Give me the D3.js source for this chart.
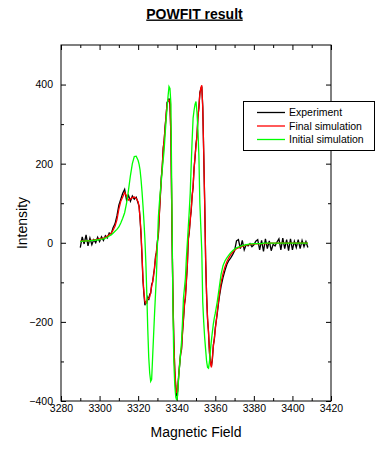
<!DOCTYPE html>
<html>
<head>
<meta charset="utf-8">
<script src="https://cdn.jsdelivr.net/npm/d3@7"></script>
<style>
  body { margin: 0; background: #fff; }
  text { font-family: "Liberation Sans", Arial, sans-serif; }
  .tick text { font-family: "Liberation Sans Narrow", "Liberation Sans", sans-serif; font-size: 10.5px; fill: #000; }
  .tick line { stroke: #000; }
</style>
</head>
<body>
<svg id="chart" width="388" height="450"></svg>
<script>
// sampling grid of the spectrum (G): 1 G steps on the wings, 0.5 G through the lines
const field = d3.range(3290, 3320.5, 1)
  .concat(d3.range(3320.5, 3360.25, 0.5))
  .concat(d3.range(3361, 3408.5, 1));

const experiment = [
  -12, 15, -3, 20, -8, 12, -5, 8, 0, 14,
  3, 15, 6, 18, 12, 25, 22, 38, 48, 68,
  95, 110, 125, 135, 108, 120, 105, 118, 110, 115, 100,
  92, 60, 20, -35, -95, -130, -158, -150, -152, -138,
  -145, -130, -128, -105, -100, -80, -65, -35, -25, 5,
  20, 75, 115, 165, 190, 240, 258, 295, 320, 355,
  358, 365, 350, 270, 45, -125, -245, -325, -365, -388,
  -375, -335, -310, -280, -270, -225, -195, -155, -140, -95,
  -60, 10, 25, 60, 80, 120, 140, 190, 215, 250,
  268, 320, 340, 380, 388, 395, 345, 225, 105, -45,
  -130, -195, -225, -280, -300, -312, -295, -258, -245, -215,
  -180, -140, -110, -88, -70, -55, -45, -38, -30, -20,
  5, 8, -15, 6, -18, -5, -8, -2, -10, -5,
  4, 8, -18, 6, -22, 10, -15, 5, -20, -4,
  -8, 2, 10, -18, 12, -15, 8, -20, 10, -18,
  4, -12, 8, -15, 6, -10, 3, -12
];

const finalSim = [
  4, 4, 5, 5, 5, 6, 6, 7, 8, 9,
  10, 11, 12, 14, 17, 20, 24, 32, 42, 58,
  85, 105, 116, 127, 118, 108, 111, 114, 116, 112, 104,
  90, 62, 25, -30, -90, -125, -148, -153, -148, -142,
  -140, -137, -125, -111, -98, -85, -60, -40, -20, 0,
  24, 70, 120, 160, 195, 235, 262, 290, 325, 350,
  361, 360, 357, 268, 50, -120, -250, -320, -360, -380,
  -370, -340, -305, -285, -265, -230, -190, -160, -135, -100,
  -55, 5, 30, 55, 85, 115, 145, 185, 218, 245,
  272, 315, 345, 375, 392, 398, 340, 230, 100, -40,
  -137, -190, -230, -275, -305, -315, -290, -262, -242, -220,
  -175, -135, -100, -78, -61, -48, -38, -30, -24, -19,
  -15, -13, -11, -9, -7, -6, -5, -4, -4, -3,
  -3, -3, -2, -2, -2, -2, -2, -1, -1, -1,
  -1, -1, -1, -1, -1, -1, -1, -1, -1, -1,
  -1, -1, -1, -1, -1, -1, -1, -1
];

const initialSim = [
  3, 4, 4, 5, 5, 5, 6, 6, 7, 7,
  8, 9, 10, 12, 14, 17, 20, 24, 29, 34,
  40, 50, 62, 76, 100, 133, 170, 200, 218, 219, 208,
  198, 184, 160, 130, 95, 55, 10, -50, -130, -220,
  -290, -330, -350, -345, -290, -235, -180, -130, -80, -5,
  66, 100, 130, 155, 185, 210, 235, 275, 310, 340,
  370, 395, 390, 350, 100, -150, -300, -360, -390, -398,
  -385, -340, -310, -280, -250, -200, -140, -115, -90, -40,
  0, 40, 80, 125, 195, 260, 315, 335, 350, 357,
  330, 285, 220, 100, 40, -20, -150, -200, -240, -270,
  -300, -315, -317, -300, -270, -246, -225, -205, -190, -178,
  -150, -115, -80, -58, -46, -38, -31, -25, -20, -16,
  -13, -11, -9, -7, -6, -5, -4, -3, -3, -2,
  -2, -2, -2, -2, -1, -1, -1, -1, -1, -1,
  -1, -1, -1, -1, -1, -1, -1, -1, -1, -1,
  -1, -1, -1, -1, -1, -1, -1, -1
];

const seriesNames = ["Experiment", "Final simulation", "Initial simulation"];
const seriesColors = ["#000000", "#ff0000", "#00ff00"];
const xMajorTicks = [3280, 3300, 3320, 3340, 3360, 3380, 3400, 3420];
const xMinorTicks = [3290, 3310, 3330, 3350, 3370, 3390, 3410];
const yMajorTicks = [-400, -200, 0, 200, 400];
const yMinorTicks = [-300, -100, 100, 300];

const pLeft = 61, pRight = 331, pTop = 45, pBottom = 401;

const svg = d3.select("#chart");

const x = d3.scaleLinear().domain([3280, 3420]).range([pLeft, pRight]);
const y = d3.scaleLinear().domain([-400, 500]).range([pBottom, pTop]);

// ticks point inward on all four sides; only bottom and left get labels
function axis(gen, tr, values, size, pad, labelled) {
  svg.append("g").attr("transform", tr)
    .call(gen.tickValues(values).tickSize(size).tickPadding(pad)
      .tickFormat(labelled ? d3.format("d") : ""))
    .call(g => g.select(".domain").remove());
}

axis(d3.axisBottom(x), `translate(0,${pBottom})`, xMinorTicks, -3, 0, false);
axis(d3.axisTop(x), `translate(0,${pTop})`, xMinorTicks, -3, 0, false);
axis(d3.axisLeft(y), `translate(${pLeft},0)`, yMinorTicks, -3, 0, false);
axis(d3.axisRight(y), `translate(${pRight},0)`, yMinorTicks, -3, 0, false);

axis(d3.axisBottom(x), `translate(0,${pBottom})`, xMajorTicks, -5, 4, true);
axis(d3.axisTop(x), `translate(0,${pTop})`, xMajorTicks, -5, 0, false);
axis(d3.axisLeft(y), `translate(${pLeft},0)`, yMajorTicks, -5, 8, true);
axis(d3.axisRight(y), `translate(${pRight},0)`, yMajorTicks, -5, 0, false);

// frame
svg.append("rect")
  .attr("x", pLeft).attr("y", pTop)
  .attr("width", pRight - pLeft).attr("height", pBottom - pTop)
  .attr("fill", "none").attr("stroke", "#000").attr("stroke-width", 1);

// curves
const line = d3.line().x((d, i) => x(field[i])).y(d => y(d));
[experiment, finalSim, initialSim].forEach((s, k) => {
  svg.append("path")
    .datum(s)
    .attr("d", line)
    .attr("fill", "none")
    .attr("stroke", seriesColors[k])
    .attr("stroke-width", 1.3);
});

// title
svg.append("text")
  .attr("x", 194.5).attr("y", 18.5)
  .attr("text-anchor", "middle")
  .attr("font-size", 14).attr("font-weight", "bold")
  .attr("text-decoration", "underline")
  .text("POWFIT result");

// axis titles
svg.append("text")
  .attr("x", (pLeft + pRight) / 2).attr("y", 437)
  .attr("text-anchor", "middle").attr("font-size", 14)
  .text("Magnetic Field");

svg.append("text")
  .attr("transform", `translate(27,${(pTop + pBottom) / 2}) rotate(-90)`)
  .attr("text-anchor", "middle").attr("font-size", 14)
  .text("Intensity");

// legend
const lg = svg.append("g");
lg.append("rect")
  .attr("x", 243.5).attr("y", 101.5).attr("width", 131).attr("height", 49)
  .attr("fill", "#fff").attr("stroke", "#000");
seriesNames.forEach((name, k) => {
  const ly = 112.5 + k * 13.5;
  lg.append("line")
    .attr("x1", 257).attr("x2", 285).attr("y1", ly).attr("y2", ly)
    .attr("stroke", seriesColors[k]).attr("stroke-width", 1.3);
  lg.append("text")
    .attr("x", 289).attr("y", ly + 3.8)
    .attr("font-family", "'Liberation Sans Narrow', 'Liberation Sans', sans-serif")
    .attr("font-size", 10.5)
    .text(name);
});
</script>
</body>
</html>
